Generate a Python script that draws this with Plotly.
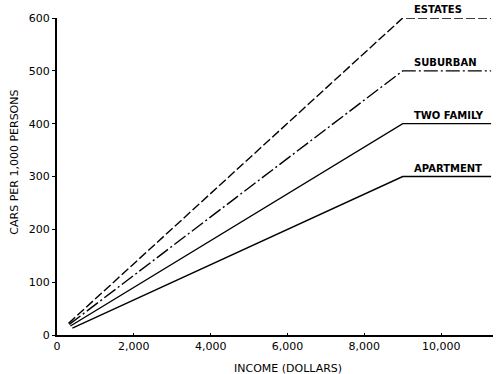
import plotly.graph_objects as go

# Data
series_names = ["ESTATES", "SUBURBAN", "TWO FAMILY", "APARTMENT"]
start_income = [300, 320, 350, 400]
start_cars = [22, 20, 17, 13]
kink_income = [9000, 9000, 9000, 9000]
plateau_cars = [600, 500, 400, 300]
end_income = [11300, 11300, 11300, 11300]
dash_styles = ["9px,3px", "14px,3px,2px,3px", "solid", "solid"]

x_ticks = [0, 2000, 4000, 6000, 8000, 10000]
x_tick_labels = ["0", "2,000", "4,000", "6,000", "8,000", "10,000"]
y_ticks = [0, 100, 200, 300, 400, 500, 600]
y_tick_labels = ["0", "100", "200", "300", "400", "500", "600"]

FONT = "DejaVu Sans"

fig = go.Figure()
for i, name in enumerate(series_names):
    fig.add_trace(go.Scatter(
        x=[start_income[i], kink_income[i], end_income[i]],
        y=[start_cars[i], plateau_cars[i], plateau_cars[i]],
        mode="lines",
        line=dict(color="black", width=1.4, dash=dash_styles[i]),
        showlegend=False,
        hoverinfo="skip",
    ))
    fig.add_annotation(
        x=9250, y=plateau_cars[i], xref="x", yref="y",
        text="<b>" + name + "</b>", showarrow=False,
        xanchor="left", yanchor="bottom", yshift=1,
        font=dict(family=FONT, size=10, color="black"),
    )

fig.add_annotation(
    x=-0.097, y=0.546, xref="paper", yref="paper",
    text="CARS PER 1,000 PERSONS", textangle=-90, showarrow=False,
    xanchor="center", yanchor="middle",
    font=dict(family=FONT, size=11, color="black"),
)
fig.add_annotation(
    x=0.53, y=-0.08, xref="paper", yref="paper",
    text="INCOME (DOLLARS)", showarrow=False,
    xanchor="center", yanchor="top",
    font=dict(family=FONT, size=11, color="black"),
)

fig.update_xaxes(
    range=[0, 11350], tickvals=x_ticks, ticktext=x_tick_labels,
    showgrid=False, zeroline=False, showline=True, linecolor="black", linewidth=2,
    ticks="inside", ticklen=2, tickcolor="black",
    tickfont=dict(family=FONT, size=11, color="black"),
)
fig.update_yaxes(
    range=[0, 600], tickvals=y_ticks, ticktext=y_tick_labels,
    showgrid=False, zeroline=False, showline=True, linecolor="black", linewidth=2,
    ticks="outside", ticklen=3, tickcolor="black",
    tickfont=dict(family=FONT, size=11, color="black"),
)
fig.update_layout(
    width=501, height=374,
    margin=dict(l=57, r=8, t=18, b=39),
    paper_bgcolor="white", plot_bgcolor="white",
)
fig.write_html(
    "out.html",
    config={"displayModeBar": False},
    post_script="document.body.style.margin='0';document.body.style.overflow='hidden';",
)
